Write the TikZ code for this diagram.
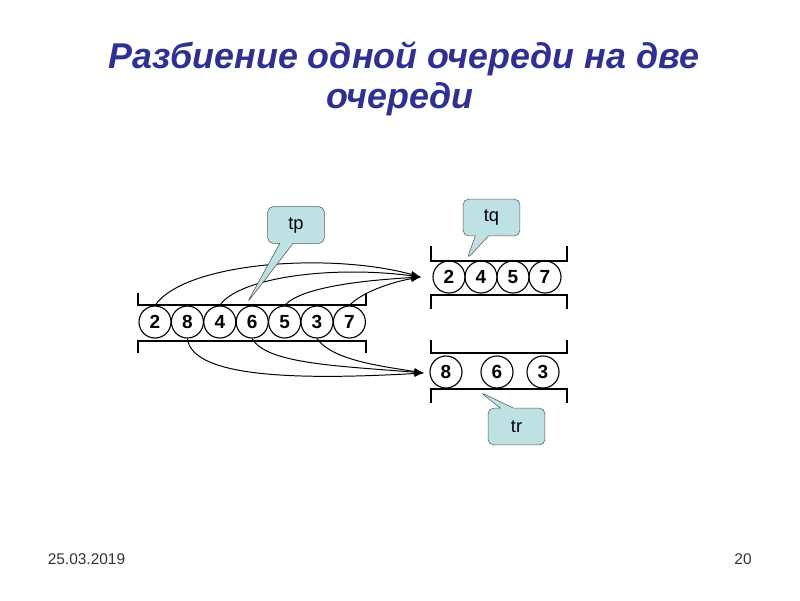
\documentclass[tikz,border=0pt]{standalone}
\usepackage{fontspec}
\setmainfont{Liberation Sans}
\usetikzlibrary{arrows.meta,shapes.callouts}
\definecolor{titleblue}{RGB}{46,49,146}
\definecolor{tipfill}{RGB}{190,226,228}

\begin{document}
\begin{tikzpicture}[x=0.025cm,y=-0.025cm,
ball/.style={draw,circle,minimum size=0.8cm,inner sep=0pt,line width=0.8pt,font=\fontsize{13.5}{16}\selectfont\bfseries},
tip/.style={rectangle callout,draw=black!65,fill=tipfill,rounded corners=4pt,minimum width=1.42cm,minimum height=0.92cm,callout pointer width=0.33cm,font=\fontsize{13}{15}\selectfont},
bracket/.style={line width=0.9pt},
arr/.style={-{Latex[length=7pt,width=5pt]},line width=0.7pt}]
\useasboundingbox (0,0) rectangle (800,600);
% title and footer
\node[anchor=base,text=titleblue,font=\fontsize{25.5}{30}\selectfont\bfseries\itshape] (title1) at (404,68) {Разбиение одной очереди на две};
\node[anchor=base,text=titleblue,font=\fontsize{25.5}{30}\selectfont\bfseries\itshape] (title2) at (400,108) {очереди};
\node[text=black!80,font=\fontsize{11}{13}\selectfont] (date) at (86.5,559) {25.03.2019};
\node[text=black!80,font=\fontsize{11}{13}\selectfont] (page) at (743,559) {20};
% queue p
\foreach \v [count=\i] in {2,8,4,6,5,3,7}
  \node[ball] (p\i) at ({155+32.4*(\i-1)},322) {\v};
\draw[bracket] (138,293) |- (366,305) -- (366,293);
\draw[bracket] (138,353) |- (366,341) -- (366,353);
% queue q
\foreach \v [count=\i] in {2,4,5,7}
  \node[ball] (q\i) at ({449+32*(\i-1)},277) {\v};
\draw[bracket] (431,246) |- (567,261) -- (567,246);
\draw[bracket] (431,309) |- (567,295) -- (567,309);
% queue r
\node[ball] (r1) at (446,372) {8};
\node[ball] (r2) at (497,372) {6};
\node[ball] (r3) at (543,372) {3};
\draw[bracket] (431,340) |- (567,353) -- (567,340);
\draw[bracket] (431,403) |- (567,389) -- (567,403);
% splitting
\coordinate (qin) at (421,277);
\coordinate (rin) at (424,373);
\draw[arr] (p1.north) .. controls (185,262) and (330,252) .. (qin);
\draw[arr] (p3.north) .. controls (238,278) and (330,265) .. (qin);
\draw[arr] (p5.north) .. controls (302,286) and (370,280) .. (qin);
\draw[arr] (p7.north) .. controls (362,292) and (392,282) .. (qin);
\draw[arr] (p2.south) .. controls (192,378) and (300,380) .. (rin);
\draw[arr] (p4.south) .. controls (266,364) and (340,366) .. (rin);
\draw[arr] (p6.south) .. controls (332,360) and (380,366) .. (rin);
% labels
\coordinate (tpend) at (247,303);
\coordinate (tqend) at (467,259);
\coordinate (trend) at (480,392);
\node[tip,callout absolute pointer={(tpend)}] (tp) at (296,225) {tp};
\node[tip,callout absolute pointer={(tqend)}] (tq) at (491.5,217.5) {tq};
\node[tip,callout absolute pointer={(trend)}] (tr) at (516.5,426.5) {tr};
\end{tikzpicture}
\end{document}
